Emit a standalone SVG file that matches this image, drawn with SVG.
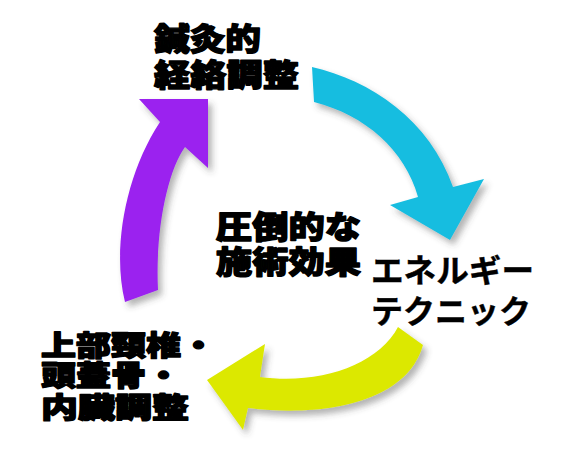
<svg xmlns="http://www.w3.org/2000/svg" width="587" height="471" viewBox="0 0 587 471">
<style>
.bg{fill:#ffffff}
.arrow{filter:url(#shadow)}
.lbl{font-family:"Noto Sans CJK JP","Noto Sans CJK SC",sans-serif;font-weight:900;fill:#000;stroke:#000;stroke-width:1.4;stroke-linejoin:round}
.kata{font-family:"Noto Sans CJK JP","Noto Sans CJK SC",sans-serif;font-weight:700;fill:#000;stroke:#000;stroke-width:0.4}
</style>
<defs>
<filter id="shadow" x="-20%" y="-20%" width="150%" height="150%">
<feDropShadow dx="4" dy="5" stdDeviation="3" flood-color="#444" flood-opacity="0.4"/>
</filter>
</defs>
<rect class="bg" x="0" y="0" width="587" height="471"/>
<g id="connectors">
<path id="arrow-purple" class="arrow" fill="#9b20ef" d="M125,302 C112,250 125,175 160,122 L139,99 L208,99 L208,168 L185,147 C168,170 155,230 158,290 Z"/>
<path id="arrow-cyan" class="arrow" fill="#18bde0" d="M312,67 C370,80 430,120 453,187 L484,179 L450,240 L390,205 L418,197 C405,150 365,115 314,102 Z"/>
<path id="arrow-yellow" class="arrow" fill="#dce806" d="M423,345 C408,400 330,418 248,408 L243,430 L207,380 L265,344 L260,377 C320,385 378,365 398,327 Z"/>
</g>
<g id="node-top">
<text class="lbl" x="154" y="50" font-size="31" textLength="107" lengthAdjust="spacingAndGlyphs">鍼灸的</text>
<text class="lbl" x="154" y="86" font-size="31" textLength="145" lengthAdjust="spacingAndGlyphs">経絡調整</text>
</g>
<g id="node-center">
<text class="lbl" x="216" y="238" font-size="31" textLength="145" lengthAdjust="spacingAndGlyphs">圧倒的な</text>
<text class="lbl" x="216" y="273" font-size="31" textLength="145" lengthAdjust="spacingAndGlyphs">施術効果</text>
</g>
<g id="node-right">
<text class="kata" x="371" y="282" font-size="32" textLength="163" lengthAdjust="spacingAndGlyphs">エネルギー</text>
<text class="kata" x="371" y="323" font-size="32" textLength="160" lengthAdjust="spacingAndGlyphs">テクニック</text>
</g>
<g id="node-left">
<text class="lbl" x="41" y="356" font-size="28" textLength="175" lengthAdjust="spacingAndGlyphs">上部頸椎・</text>
<text class="lbl" x="41" y="386" font-size="28" textLength="140" lengthAdjust="spacingAndGlyphs">頭蓋骨・</text>
<text class="lbl" x="41" y="418" font-size="28" textLength="148" lengthAdjust="spacingAndGlyphs">内臓調整</text>
</g>
</svg>
